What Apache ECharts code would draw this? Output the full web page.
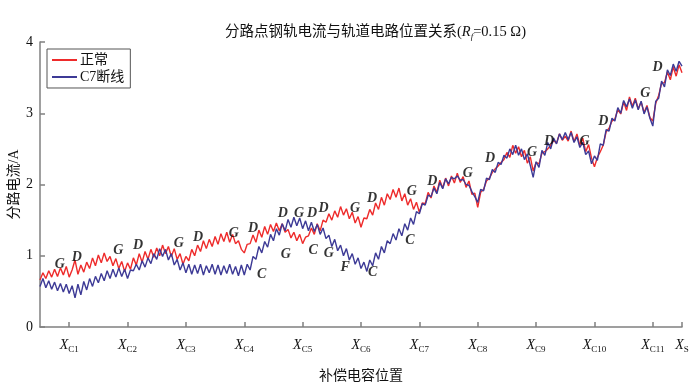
<!DOCTYPE html>
<html><head><meta charset="utf-8">
<script src="https://cdn.jsdelivr.net/npm/echarts@6/dist/echarts.min.js"></script>
<style>html,body{margin:0;padding:0;background:#fff}#c{width:700px;height:382px}</style>
</head><body><div id="c"></div>
<script>
const positions = [
0.00,0.05,0.10,0.15,0.20,0.25,0.30,0.35,0.40,0.45,0.50,0.55,0.60,0.65,0.70,0.75,0.80,0.85,0.90,0.95,
1.00,1.05,1.10,1.15,1.20,1.25,1.30,1.35,1.40,1.45,1.50,1.55,1.60,1.65,1.70,1.75,1.80,1.85,1.90,1.95,
2.00,2.05,2.10,2.15,2.20,2.25,2.30,2.35,2.40,2.45,2.50,2.55,2.60,2.65,2.70,2.75,2.80,2.85,2.90,2.95,
3.00,3.05,3.10,3.15,3.20,3.25,3.30,3.35,3.40,3.45,3.50,3.55,3.60,3.65,3.70,3.75,3.80,3.85,3.90,3.95,
4.00,4.05,4.10,4.15,4.20,4.25,4.30,4.35,4.40,4.45,4.50,4.55,4.60,4.65,4.70,4.75,4.80,4.85,4.90,4.95,
5.00,5.05,5.10,5.15,5.20,5.25,5.30,5.35,5.40,5.45,5.50,5.55,5.60,5.65,5.70,5.75,5.80,5.85,5.90,5.95,
6.00,6.05,6.10,6.15,6.20,6.25,6.30,6.35,6.40,6.45,6.50,6.55,6.60,6.65,6.70,6.75,6.80,6.85,6.90,6.95,
7.00,7.05,7.10,7.15,7.20,7.25,7.30,7.35,7.40,7.45,7.50,7.55,7.60,7.65,7.70,7.75,7.80,7.85,7.90,7.95,
8.00,8.05,8.10,8.15,8.20,8.25,8.30,8.35,8.40,8.45,8.50,8.55,8.60,8.65,8.70,8.75,8.80,8.85,8.90,8.95,
9.00,9.05,9.10,9.15,9.20,9.25,9.30,9.35,9.40,9.45,9.50,9.55,9.60,9.65,9.70,9.75,9.80,9.85,9.90,9.95,
10.00,10.05,10.10,10.15,10.20,10.25,10.30,10.35,10.40,10.45,10.50,10.55,10.60,10.65,10.70,10.75,10.80,10.85,10.90,10.95,11.00];

const normalCurrent = [
0.66,0.76,0.68,0.79,0.70,0.81,0.71,0.83,0.73,0.85,0.70,0.80,0.94,0.74,0.87,0.77,0.91,0.82,0.97,0.86,
1.01,0.90,1.04,0.92,0.99,0.86,0.96,0.82,0.92,0.78,0.90,0.81,0.97,0.87,1.03,0.91,1.06,0.95,1.09,0.98,
1.11,1.00,1.15,1.03,1.13,0.99,1.10,0.95,1.03,0.88,0.99,0.93,1.09,1.00,1.15,1.06,1.21,1.10,1.23,1.13,
1.27,1.16,1.31,1.20,1.33,1.19,1.30,1.17,1.21,1.09,1.04,1.16,1.17,1.29,1.19,1.36,1.26,1.41,1.30,1.44,
1.34,1.46,1.35,1.45,1.33,1.37,1.25,1.33,1.21,1.30,1.17,1.26,1.28,1.39,1.30,1.45,1.35,1.50,1.47,1.59,
1.50,1.63,1.54,1.69,1.57,1.66,1.52,1.61,1.46,1.55,1.40,1.53,1.52,1.65,1.57,1.74,1.65,1.82,1.71,1.87,
1.79,1.93,1.82,1.95,1.77,1.87,1.71,1.80,1.65,1.75,1.61,1.74,1.73,1.89,1.81,1.98,1.89,2.06,1.95,2.09,
1.98,2.12,2.02,2.16,2.03,2.11,1.96,2.05,1.86,1.88,1.68,1.89,1.93,2.05,2.09,2.17,2.22,2.26,2.31,2.35,
2.45,2.38,2.55,2.44,2.53,2.39,2.48,2.30,2.39,2.19,2.31,2.29,2.44,2.46,2.50,2.55,2.62,2.58,2.71,2.62,
2.68,2.61,2.75,2.60,2.71,2.55,2.65,2.46,2.56,2.37,2.25,2.38,2.46,2.55,2.74,2.79,2.89,2.92,3.05,2.99,
3.16,3.04,3.23,3.10,3.21,3.06,3.16,3.01,3.11,2.94,2.89,3.14,3.25,3.42,3.43,3.58,3.47,3.65,3.52,3.68,3.57];

const brokenC7Current = [
0.57,0.68,0.55,0.65,0.53,0.63,0.51,0.61,0.49,0.60,0.47,0.58,0.41,0.60,0.45,0.64,0.52,0.68,0.57,0.71,
0.62,0.75,0.65,0.79,0.68,0.81,0.70,0.83,0.71,0.81,0.68,0.80,0.79,0.88,0.80,0.93,0.84,0.97,0.89,1.03,
0.95,1.10,0.99,1.09,0.94,1.03,0.87,0.95,0.80,0.90,0.76,0.88,0.74,0.87,0.75,0.88,0.73,0.86,0.76,0.88,
0.74,0.87,0.73,0.86,0.75,0.88,0.74,0.85,0.72,0.87,0.73,0.88,0.80,0.99,0.95,1.13,1.04,1.20,1.12,1.30,
1.21,1.38,1.29,1.45,1.35,1.51,1.40,1.54,1.42,1.53,1.38,1.49,1.35,1.47,1.34,1.44,1.30,1.39,1.24,1.29,
1.13,1.23,1.07,1.15,1.00,1.10,0.94,1.03,0.88,0.97,0.82,0.91,0.78,0.94,0.86,1.04,0.95,1.13,1.04,1.21,
1.17,1.31,1.22,1.38,1.28,1.45,1.36,1.53,1.44,1.62,1.59,1.73,1.71,1.85,1.83,1.95,1.87,2.03,1.94,2.08,
2.01,2.10,2.08,2.12,2.06,2.07,2.00,1.99,1.90,1.83,1.75,1.93,1.91,2.09,2.07,2.21,2.17,2.31,2.28,2.41,
2.37,2.50,2.42,2.55,2.41,2.50,2.35,2.43,2.27,2.10,2.32,2.24,2.48,2.41,2.59,2.50,2.65,2.57,2.71,2.63,
2.73,2.63,2.73,2.59,2.67,2.52,2.59,2.42,2.47,2.29,2.40,2.34,2.57,2.55,2.77,2.75,2.93,2.89,3.08,3.00,
3.18,3.09,3.20,3.07,3.19,3.05,3.17,2.99,3.09,2.93,2.82,3.17,3.21,3.45,3.37,3.61,3.53,3.69,3.59,3.73,3.66];

const tickPositions = [0.5,1.5,2.5,3.5,4.5,5.5,6.5,7.5,8.5,9.5,10.5,11];
const tickNames = ['C1','C2','C3','C4','C5','C6','C7','C8','C9','C10','C11','S'];
const yTicks = [0,1,2,3,4];

const annotationLetters = ['G','D','G','D','G','D','G','D','D','G','D','D','G','C','G','C','F','C','C','G','D','G','D','G','D','G','D','G','D','G','D'];
const annotationX = [0.34,0.63,1.34,1.68,2.38,2.71,3.32,3.65,4.16,4.44,4.66,4.86,4.21,4.68,4.95,3.80,5.23,5.70,6.34,5.40,5.69,6.37,6.72,7.33,7.71,8.43,8.72,9.33,9.65,10.37,10.58];
const annotationY = [0.88,0.98,1.08,1.15,1.18,1.26,1.32,1.39,1.59,1.59,1.59,1.67,1.02,1.08,1.04,0.74,0.83,0.76,1.22,1.66,1.80,1.91,2.04,2.16,2.36,2.45,2.61,2.61,2.88,3.28,3.64];

const serif = "'Liberation Serif','Noto Sans CJK SC',serif";
const zip = (xs, ys) => xs.map((x, i) => [x, ys[i]]);

const chart = echarts.init(document.getElementById('c'), null, {renderer: 'canvas'});
chart.setOption({
  animation: false,
  backgroundColor: '#fff',
  title: {
    text: '{a|分路点钢轨电流与轨道电路位置关系(}{i|R}{s|f}{a|=0.15 Ω)}',
    left: 220, top: 18,
    textStyle: {
      fontWeight: 'normal',
      rich: {
        a: {fontFamily: serif, fontSize: 14.5, fontWeight: 'normal', color: '#111', lineHeight: 18, verticalAlign: 'middle'},
        i: {fontFamily: serif, fontStyle: 'italic', fontWeight: 'normal', fontSize: 14.5, color: '#111', lineHeight: 18, verticalAlign: 'middle'},
        s: {fontFamily: serif, fontStyle: 'italic', fontWeight: 'normal', fontSize: 9, color: '#111', lineHeight: 12, verticalAlign: 'bottom'}
      }
    }
  },
  legend: {
    left: 47, top: 49, orient: 'vertical',
    padding: [4, 6, 4, 5], itemGap: 3,
    borderColor: '#555', borderWidth: 1,
    itemWidth: 25, itemHeight: 2,
    icon: 'rect',
    data: ['正常', 'C7断线'],
    textStyle: {fontFamily: serif, fontSize: 14, color: '#111', padding: [0,0,0,-2]}
  },
  grid: {left: 40, right: 18, top: 42, bottom: 55, outerBoundsMode: 'none', containLabel: false},
  xAxis: {
    type: 'value', min: 0, max: 11,
    name: '补偿电容位置', nameLocation: 'middle', nameGap: 42, nameMoveOverlap: false,
    nameTextStyle: {fontFamily: serif, fontSize: 14, color: '#111'},
    axisLine: {lineStyle: {color: '#808080', width: 1.5}},
    axisTick: {inside: true, length: 5, customValues: tickPositions, lineStyle: {color: '#808080', width: 1.5}},
    splitLine: {show: false},
    axisLabel: {
      customValues: tickPositions,
      margin: 9,
      formatter: v => {
        const i = tickPositions.findIndex(p => Math.abs(p - v) < 1e-6);
        return i < 0 ? '' : '{x|X}{s|' + tickNames[i] + '}';
      },
      rich: {
        x: {fontFamily: serif, fontStyle: 'italic', fontSize: 14, color: '#111', lineHeight: 18, verticalAlign: 'middle'},
        s: {fontFamily: serif, fontSize: 9, color: '#111', lineHeight: 12, verticalAlign: 'bottom'}
      }
    }
  },
  yAxis: {
    type: 'value', min: 0, max: 4, interval: 1,
    name: '分路电流/A', nameLocation: 'middle', nameGap: 19, nameMoveOverlap: false,
    nameTextStyle: {fontFamily: serif, fontSize: 14, color: '#111'},
    axisLine: {show: true, lineStyle: {color: '#808080', width: 1.5}},
    axisTick: {show: true, inside: true, length: 5, lineStyle: {color: '#808080', width: 1.5}},
    splitLine: {show: false},
    axisLabel: {fontFamily: serif, fontSize: 14, color: '#111', margin: 7,
      formatter: v => yTicks.includes(v) ? String(v) : ''}
  },
  series: [
    {name: '正常', type: 'line', data: zip(positions, normalCurrent), showSymbol: false, symbol: 'none',
     lineStyle: {color: '#ee2b2b', width: 1.4}, itemStyle: {color: '#ee2b2b'}, z: 2},
    {name: 'C7断线', type: 'line', data: zip(positions, brokenC7Current), showSymbol: false, symbol: 'none',
     lineStyle: {color: '#3d3a96', width: 1.4}, itemStyle: {color: '#3d3a96'}, z: 3},
    {name: 'labels', type: 'scatter', symbolSize: 0, z: 5, silent: true,
     data: annotationX.map((x, i) => ({value: [x, annotationY[i]], label: {formatter: annotationLetters[i]}})),
     label: {show: true, position: 'inside', fontFamily: serif, fontStyle: 'italic', fontWeight: 'bold',
       fontSize: 14, color: '#000', textBorderWidth: 0, textBorderColor: 'transparent'}}
  ]
});
</script></body></html>
